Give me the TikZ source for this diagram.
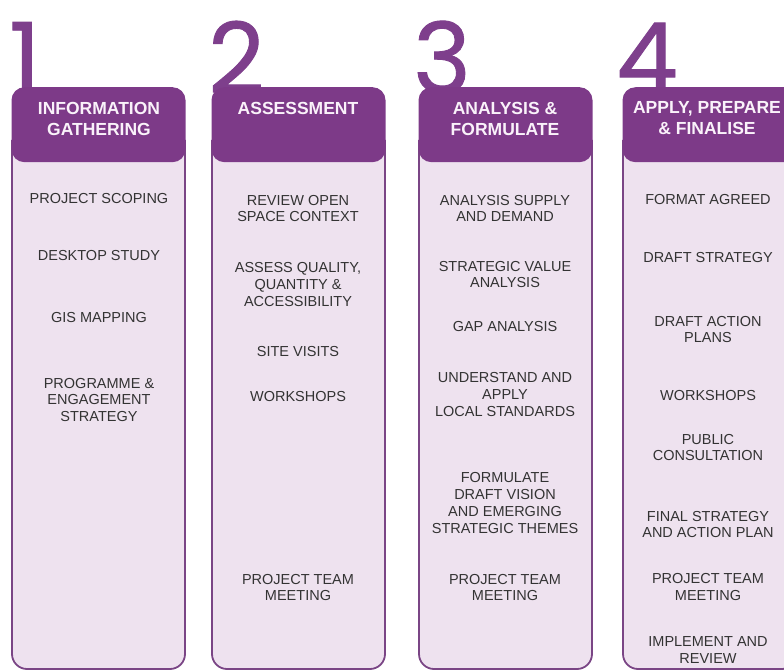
\documentclass[tikz,border=0pt]{standalone}
\usepackage{fontspec}
\setmainfont{Liberation Sans}
\newfontfamily\digitfont{Poppins}[FakeBold=0.9]
\definecolor{stagepurple}{HTML}{7D3A88}
\definecolor{digitpurple}{HTML}{7E3F8C}
\definecolor{panelfill}{HTML}{EEE2EF}
\definecolor{panelline}{HTML}{7A4585}
\definecolor{itemtext}{HTML}{333333}
\definecolor{headtext}{HTML}{FAF2FA}

\tikzset{
  stagedigit/.style={anchor=base west, inner sep=0, text=digitpurple,
    font=\digitfont\fontsize{98}{98}\selectfont},
  stagehead/.style={fill=stagepurple, rounded corners=13, inner sep=0,
    minimum width=174, minimum height=75, anchor=north},
  headlabel/.style={align=center, inner sep=0, text=headtext,
    font=\bfseries\fontsize{17.5}{21}\selectfont},
  panel/.style={fill=panelfill, draw=panelline, line width=1.8pt, rounded corners=15},
  item/.style={align=center, inner sep=0, text=itemtext,
    font=\fontsize{14.5}{16.8}\selectfont},
}

\begin{document}
\begin{tikzpicture}[x=1pt,y=-1pt]
\useasboundingbox (0,0) rectangle (784,671);
\clip (0,0) rectangle (784,671);

% stage numbers (drawn first so the headers overlap their feet)
\node[stagedigit] (d1) at (9,93) {1};
\node[stagedigit] (d2) at (208,93) {2};
\node[stagedigit] (d3) at (413,93) {3};
\node[stagedigit] (d4) at (616,93) {4};

% column panels
\path[panel] (12,140) -- (12,669) -- (185,669) -- (185,140);
\path[panel] (212,140) -- (212,669) -- (385,669) -- (385,140);
\path[panel] (419,140) -- (419,669) -- (592,669) -- (592,140);
\path[panel] (623,140) -- (623,669) -- (797,669) -- (797,140);

% column headers
\node[stagehead] (h1) at (98.5,87) {};
\node[stagehead] (h2) at (298.5,87) {};
\node[stagehead] (h3) at (505.5,87) {};
\node[stagehead, minimum width=175] (h4) at (710,87) {};

\node[headlabel] (t1) at (99,118.5) {INFORMATION\\GATHERING};
\node[headlabel] (t2) at (298,108) {ASSESSMENT};
\node[headlabel] (t3) at (505,118.5) {ANALYSIS \&\\FORMULATE};
\node[headlabel] (t4) at (707,118.5) {APPLY, PREPARE\\\& FINALISE};

% 1 - information gathering
\node[item] (a1) at (99,199) {PROJECT SCOPING};
\node[item] (a2) at (99,256) {DESKTOP STUDY};
\node[item] (a3) at (99,318) {GIS MAPPING};
\node[item] (a4) at (99,400) {PROGRAMME \&\\ENGAGEMENT\\STRATEGY};

% 2 - assessment
\node[item] (b1) at (298,208.5) {REVIEW OPEN\\SPACE CONTEXT};
\node[item] (b2) at (298,284.5) {ASSESS QUALITY,\\QUANTITY \&\\ACCESSIBILITY};
\node[item] (b3) at (298,352) {SITE VISITS};
\node[item] (b4) at (298,397) {WORKSHOPS};
\node[item] (b5) at (298,587.5) {PROJECT TEAM\\MEETING};

% 3 - analysis & formulate
\node[item] (c1) at (505,208.5) {ANALYSIS SUPPLY\\AND DEMAND};
\node[item] (c2) at (505,274.5) {STRATEGIC VALUE\\ANALYSIS};
\node[item] (c3) at (505,327) {GAP ANALYSIS};
\node[item] (c4) at (505,394.5) {UNDERSTAND AND\\APPLY\\LOCAL STANDARDS};
\node[item] (c5) at (505,503) {FORMULATE\\DRAFT VISION\\AND EMERGING\\STRATEGIC THEMES};
\node[item] (c6) at (505,587.5) {PROJECT TEAM\\MEETING};

% 4 - apply, prepare & finalise
\node[item] (e1) at (708,199.5) {FORMAT AGREED};
\node[item] (e2) at (708,258) {DRAFT STRATEGY};
\node[item] (e3) at (708,329.5) {DRAFT ACTION\\PLANS};
\node[item] (e4) at (708,396) {WORKSHOPS};
\node[item] (e5) at (708,447.5) {PUBLIC\\CONSULTATION};
\node[item] (e6) at (708,524.5) {FINAL STRATEGY\\AND ACTION PLAN};
\node[item] (e7) at (708,587) {PROJECT TEAM\\MEETING};
\node[item] (e8) at (708,650) {IMPLEMENT AND\\REVIEW};
\end{tikzpicture}
\end{document}
